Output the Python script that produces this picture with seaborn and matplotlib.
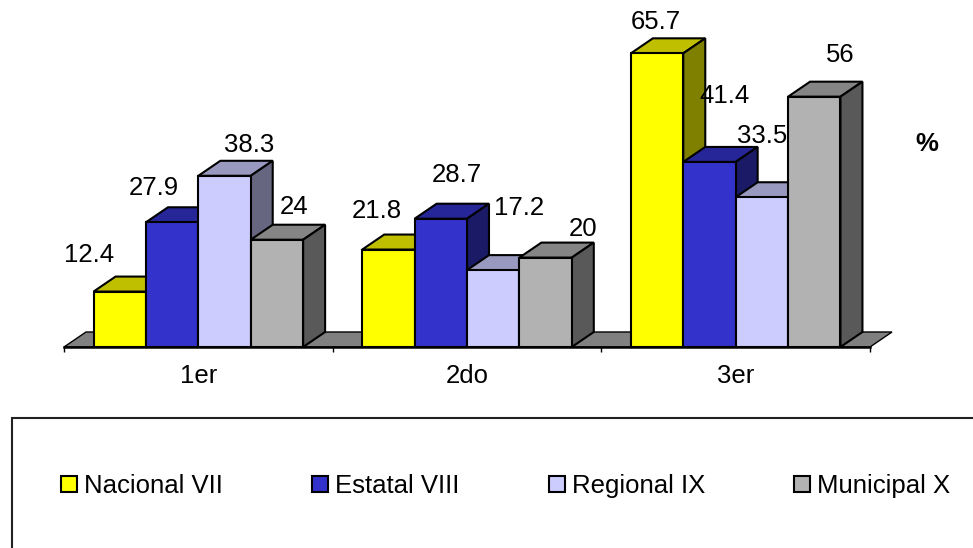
import matplotlib
matplotlib.use("Agg")
import matplotlib.pyplot as plt
from matplotlib.patches import Polygon, Rectangle
from matplotlib.colors import to_rgb
import pandas as pd
import seaborn as sns

grades = ["1er", "2do", "3er"]
series = ["Nacional VII", "Estatal VIII", "Regional IX", "Municipal X"]
nacional = [12.4, 21.8, 65.7]
estatal = [27.9, 28.7, 41.4]
regional = [38.3, 17.2, 33.5]
municipal = [24, 20, 56]
unit_label = "%"

colors = ["#FFFF00", "#3333CC", "#CCCCFF", "#B2B2B2"]
# label offsets from the bar's top centre, in pixels (x right, y up)
label_offsets = {
    0: [(-31, 36.5), (-12, 38.5), (-1, 31.5)],
    1: [(-18, 34.5), (16, 43.5), (15, 65.5)],
    2: [(25, 30.5), (26, 62.5), (0, 61.5)],
    3: [(17, 32.5), (37, 28.5), (26, 41.5)],
}

W, H, DPI = 973, 548, 100
sns.set_style("white")
plt.rcParams["font.family"] = ["Liberation Sans", "DejaVu Sans"]
FS = 18.5
LW = 1.5

df = pd.DataFrame({
    "grade": grades * 4,
    "serie": sum([[s] * 3 for s in series], []),
    "value": nacional + estatal + regional + municipal,
})

fig = plt.figure(figsize=(W / DPI, H / DPI), dpi=DPI)
ax = fig.add_axes([64 / W, (H - 347) / H, 806 / W, 347 / H])
ax.patch.set_alpha(0)
sns.barplot(data=df, x="grade", y="value", hue="serie", order=grades, hue_order=series,
            palette=colors, saturation=1, width=0.78, gap=0, errorbar=None,
            edgecolor="black", linewidth=LW, ax=ax)
ax.set_xlim(-0.5, 2.5)
ax.set_ylim(0, 347 / 4.47)

dx = 22 * 3 / 806
dy = 15 / 4.47


def shade(c, f):
    return tuple(v * f for v in to_rgb(c))


ax.add_patch(Polygon([(-0.5, 0), (-0.5 + dx, dy), (2.5 + dx, dy), (2.5, 0)], closed=True,
                     facecolor="#808080", edgecolor="black", linewidth=1.0,
                     clip_on=False, zorder=1))

for i, cont in enumerate(ax.containers):
    c = colors[i]
    for j, bar in enumerate(cont.patches):
        x0, w, h = bar.get_x(), bar.get_width(), bar.get_height()
        z = 3 + i
        bar.set_zorder(z + 0.2)
        ax.add_patch(Polygon([(x0, h), (x0 + dx, h + dy), (x0 + w + dx, h + dy), (x0 + w, h)],
                             closed=True, facecolor=shade(c, 0.75), edgecolor="black",
                             linewidth=LW, clip_on=False, zorder=z))
        ax.add_patch(Polygon([(x0 + w, 0), (x0 + w + dx, dy), (x0 + w + dx, h + dy), (x0 + w, h)],
                             closed=True, facecolor=shade(c, 0.5), edgecolor="black",
                             linewidth=LW, clip_on=False, zorder=z))
        ox, oy = label_offsets[i][j]
        ax.annotate(f"{h:g}", (x0 + w / 2, h), xytext=(ox * 72 / DPI, oy * 72 / DPI),
                    textcoords="offset points", ha="center", va="center",
                    fontsize=FS, color="black", zorder=20, annotation_clip=False)

for s in ["left", "top", "right"]:
    ax.spines[s].set_visible(False)
ax.spines["bottom"].set_color("black")
ax.spines["bottom"].set_linewidth(1.8)
ax.spines["bottom"].set_zorder(15)
ax.set_xlabel("")
ax.set_ylabel("")
ax.set_yticks([])
ax.set_xticks([-0.5, 0.5, 1.5, 2.5])
ax.set_xticklabels([])
ax.set_xticks([0, 1, 2], labels=grades, minor=True)
ax.tick_params(axis="x", which="major", length=3.6, width=1, color="black", bottom=True)
ax.tick_params(axis="x", which="minor", length=0, labelsize=FS, pad=12, labelcolor="black")

fig.text(927 / W, (H - 144) / H, unit_label, fontsize=FS, fontweight="bold",
         ha="center", va="center", color="black")

fig.add_artist(Rectangle((11.5 / W, -0.05), 1.05, (H - 418) / H + 0.05, transform=fig.transFigure,
                         facecolor="none", edgecolor="#222222", linewidth=1.5))

handles, labels = ax.get_legend_handles_labels()
leg = ax.legend(handles, labels, loc="center left",
                bbox_to_anchor=(61 / W, (H - 486) / H), bbox_transform=fig.transFigure,
                ncol=4, frameon=False, fontsize=FS, borderpad=0, borderaxespad=0,
                handlelength=0.62, handleheight=0.62, handletextpad=0.27, columnspacing=3.48,
                labelcolor="black")

fig.savefig("out.png", dpi=DPI)
